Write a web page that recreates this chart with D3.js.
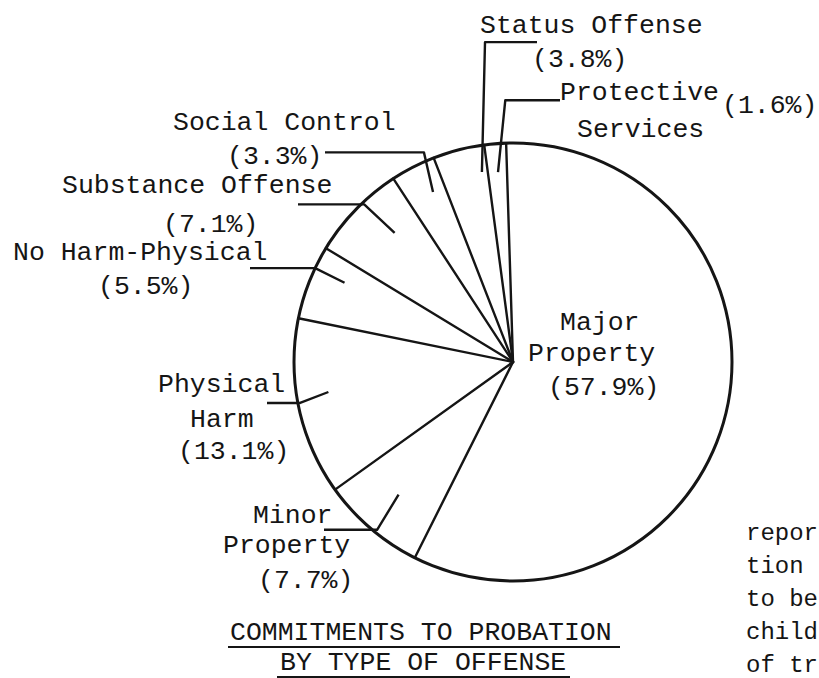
<!DOCTYPE html>
<html>
<head>
<meta charset="utf-8">
<script src="https://cdn.jsdelivr.net/npm/d3@7"></script>
<style>
  html, body { margin: 0; padding: 0; background: #fff; }
  svg { display: block; }
  text { font-family: "Liberation Mono", "DejaVu Sans Mono", monospace; fill: #151515; }
</style>
</head>
<body>
<script>
// ---- data ----
const categories = ["Major Property", "Minor Property", "Physical Harm", "No Harm-Physical",
                    "Substance Offense", "Social Control", "Status Offense", "Protective Services"];
const values = [57.9, 7.7, 13.1, 5.5, 7.1, 3.3, 3.8, 1.6];
const labelWords = [["Major", "Property"], ["Minor", "Property"], ["Physical", "Harm"], ["No Harm-Physical"],
                    ["Substance Offense"], ["Social Control"], ["Status Offense"], ["Protective", "Services"]];
const titleLines = ["COMMITMENTS TO PROBATION", "BY TYPE OF OFFENSE"];
const sideText = ["repor", "tion", "to be", "child", "of tr"];

// ---- layout ----
const W = 819, H = 678;
const cx = 513, cy = 362, R = 219;
const startDeg = -1.8;
const fontSize = 26.5;
const ink = "#151515";

// label line positions (per category, per line; percent line listed last)
const labelPos = [
  [[560, 330], [528, 361], [548, 395]],
  [[253, 523], [223, 553], [258, 588]],
  [[158, 392], [190, 427], [178, 459]],
  [[13, 260], [98, 294]],
  [[62, 193], [163, 232]],
  [[173, 130], [227, 164]],
  [[480, 33], [532, 67]],
  [[560, 100], [577, 137], [722, 113]]
];
// leader: tick end (fraction in slice, radius ratio), elbow (fraction, radius ratio), horizontal end x
const leaders = [
  null,
  {f1: 0.51, r1: 0.80, f2: 0.446, r2: 0.986, hx: 324},
  {f1: 0.56, r1: 0.854, f2: 0.525, r2: 0.99, hx: 267},
  {f1: 0.69, r1: 0.85, f2: 0.70, r2: 1.0, hx: 250},
  {f1: 0.633, r1: 0.80, f2: 0.60, r2: 0.99, hx: 298},
  {f1: 0.667, r1: 0.858, f2: 0.85, r2: 1.04, hx: 325},
  {f1: 0.873, r1: 0.879, f2: 1.187, r2: 1.466, hx: 537},
  {f1: 0.53, r1: 0.87, f2: 1.02, r2: 1.196, hx: 560}
];

const svg = d3.select("body").append("svg")
  .attr("width", W).attr("height", H)
  .attr("viewBox", `0 0 ${W} ${H}`);

const a0 = startDeg * Math.PI / 180;
const pie = d3.pie().sort(null).value(d => d)
  .startAngle(a0).endAngle(a0 + 2 * Math.PI);
const arcs = pie(values);
const arcGen = d3.arc().innerRadius(0).outerRadius(R);

const g = svg.append("g").attr("transform", `translate(${cx},${cy})`);

// slices (white fill, boundaries drawn as radial lines)
g.selectAll("path.slice").data(arcs).join("path")
  .attr("class", "slice")
  .attr("d", arcGen)
  .attr("fill", "#fff")
  .attr("stroke", "none");

// radial divider lines
g.selectAll("line.div").data(arcs).join("line")
  .attr("class", "div")
  .attr("x1", 0).attr("y1", 0)
  .attr("x2", d => R * Math.sin(d.startAngle))
  .attr("y2", d => -R * Math.cos(d.startAngle))
  .attr("stroke", ink).attr("stroke-width", 2.4).attr("stroke-linecap", "round");

// outer circle
g.append("circle").attr("r", R).attr("fill", "none")
  .attr("stroke", ink).attr("stroke-width", 3);

// leader lines
function polar(d, f, rr) {
  const a = d.startAngle + f * (d.endAngle - d.startAngle);
  return [cx + rr * R * Math.sin(a), cy - rr * R * Math.cos(a)];
}
arcs.forEach((d, i) => {
  const L = leaders[i];
  if (!L) return;
  const p1 = polar(d, L.f1, L.r1);
  const p2 = polar(d, L.f2, L.r2);
  const p3 = [L.hx, p2[1]];
  svg.append("path")
    .attr("d", d3.line()([p3, p2, p1]))
    .attr("fill", "none").attr("stroke", ink)
    .attr("stroke-width", 2.4).attr("stroke-linejoin", "round");
});

// labels
const fmt = v => "(" + v.toFixed(1) + "%)";
arcs.forEach((d, i) => {
  const lines = labelWords[i].concat([fmt(values[i])]);
  lines.forEach((t, j) => {
    const p = labelPos[i][j];
    svg.append("text").attr("x", p[0]).attr("y", p[1])
      .attr("font-size", fontSize).text(t);
  });
});

// title with underlines
const titlePos = [[230, 640], [280, 670]];
titleLines.forEach((t, i) => {
  svg.append("text").attr("x", titlePos[i][0]).attr("y", titlePos[i][1])
    .attr("font-size", fontSize).text(t);
});
svg.append("line").attr("x1", 228).attr("x2", 620).attr("y1", 647).attr("y2", 647)
  .attr("stroke", ink).attr("stroke-width", 2.2);
svg.append("line").attr("x1", 277).attr("x2", 570).attr("y1", 677).attr("y2", 677)
  .attr("stroke", ink).attr("stroke-width", 2);

// body text fragment on the right edge (kept fully inside the frame)
sideText.forEach((t, i) => {
  svg.append("text").attr("x", 746).attr("y", 540 + i * 33.1)
    .attr("font-size", 24).text(t);
});
</script>
</body>
</html>
